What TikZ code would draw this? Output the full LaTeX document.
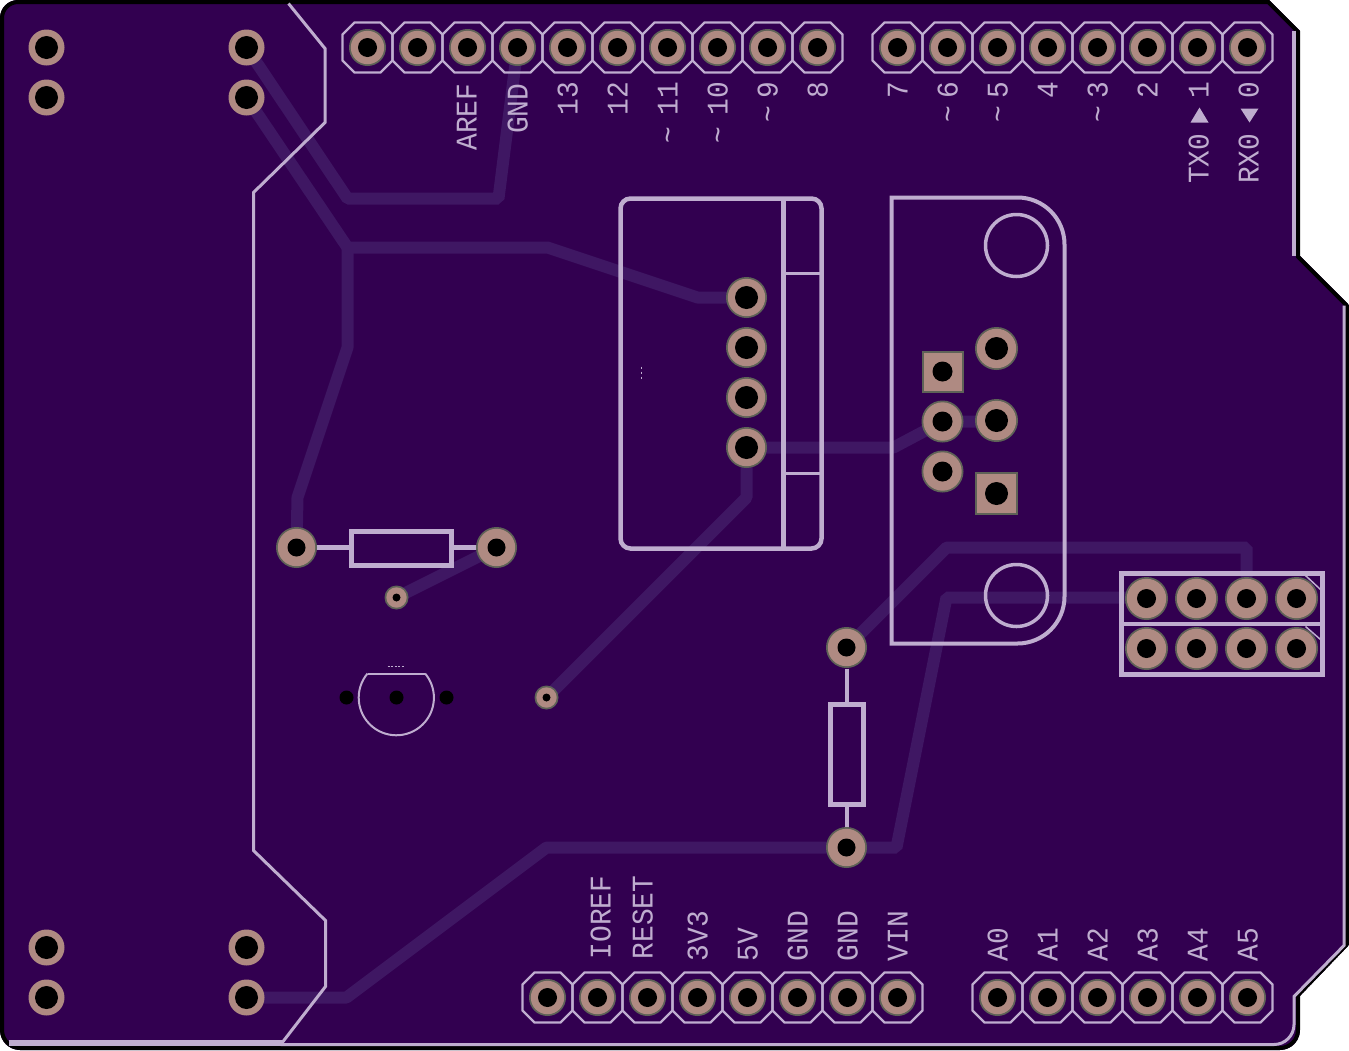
\documentclass[tikz,border=0pt]{standalone}
\usepackage{fontspec}
\newfontfamily\silkfont[FakeStretch=0.93]{Liberation Mono}
\definecolor{board}{HTML}{320050}
\definecolor{trace}{HTML}{3F1763}
\definecolor{silk}{HTML}{BFADCF}
\definecolor{copper}{HTML}{AF8A82}
\definecolor{rim}{HTML}{5E6257}
\newcommand{\boardpath}{(0,18) arc[start angle=180,end angle=90,radius=18pt] -- (1269,0) -- (1300,31) -- (1300,256) -- (1349,305) -- (1349,945) -- (1300,996) -- (1300,1030) arc[start angle=0,end angle=-90,radius=20pt] -- (20,1050) arc[start angle=270,end angle=180,radius=20pt] -- cycle}
% x, y, outer radius, hole radius
\newcommand{\rimpad}[4]{\fill[rim] (#1,#2) circle[radius=#3 pt]; \fill[copper] (#1,#2) circle[radius=#3 pt-1.8pt]; \fill[black] (#1,#2) circle[radius=#4 pt];}
\newcommand{\plainpad}[2]{\fill[copper] (#1,#2) circle[radius=18pt]; \fill[black] (#1,#2) circle[radius=11.5pt];}
\newcommand{\pinpad}[2]{\draw[octo] (#1-25,#2-13) -- (#1-13,#2-25) -- (#1+13,#2-25) -- (#1+25,#2-13) -- (#1+25,#2+13) -- (#1+13,#2+25) -- (#1-13,#2+25) -- (#1-25,#2+13) -- cycle; \rimpad{#1}{#2}{18.5}{9.5}}
\newcommand{\squarepad}[4]{\fill[rim] (#1-#3,#2-#3) rectangle (#1+#3,#2+#3); \fill[copper] (#1-#3+2,#2-#3+2) rectangle (#1+#3-2,#2+#3-2); \fill[black] (#1,#2) circle[radius=#4 pt];}
\newcommand{\wave}[1]{\textasciitilde\hspace*{#1pt}}
\tikzset{
  octo/.style={draw=silk,line width=2.2pt,line join=miter},
  tracks/.style={draw=trace,line width=12pt,line join=bevel,line cap=round},
  outline/.style={draw=silk,line width=3pt},
  silkline/.style={draw=silk,line width=4.5pt,line join=miter},
  toplabel/.style={rotate=90,anchor=east,inner sep=0pt,text height=20pt,text depth=0pt,text=silk,font=\silkfont\fontsize{30}{30}\selectfont},
  botlabel/.style={rotate=90,anchor=west,inner sep=0pt,text height=20pt,text depth=0pt,text=silk,font=\silkfont\fontsize{30}{30}\selectfont}
}
\begin{document}
\begin{tikzpicture}[x=1pt,y=-1pt]
\useasboundingbox (0,0) rectangle (1349,1050);
\begin{scope}
\clip \boardpath;
\fill[board] \boardpath;
\draw[black,line width=8pt] \boardpath;
\end{scope}
\begin{scope}[shift={(0.5,0.5)}]
% copper traces
\draw[tracks] (246,47) -- (347,198) -- (498,198) -- (517,47);
\draw[tracks] (246,97) -- (347,247) -- (547,247) -- (697,297) -- (746,297);
\draw[tracks] (347,247) -- (347,347) -- (297,497) -- (296,547);
\draw[tracks] (396,597) -- (496,547);
\draw[tracks] (746,447) -- (746,497) -- (546,697);
\draw[tracks] (746,447) -- (893,447) -- (942,421) -- (996,421);
\draw[tracks] (846,647) -- (946,547) -- (1246,547) -- (1246,597);
\draw[tracks] (1146,597) -- (946,597) -- (896,847) -- (546,847) -- (346,997) -- (246,997);
% board outline silk
\draw[outline,line width=3.5pt] (1293.5,30) -- (1293.5,255);
\draw[outline] (1343.5,305) -- (1343.5,945) -- (1293.5,996) -- (1293.5,1024) arc[start angle=0,end angle=-90,radius=20pt] -- (280,1044);
\draw[draw=silk,line width=6pt] (8,1042.5) -- (282,1042.5);
\draw[outline] (288,3) -- (324.5,48) -- (324.5,122) -- (253,192) -- (253,850) -- (325,920) -- (325,986) -- (281,1043);
% left mounting pads
\foreach \px/\py in {46/47,46/97,246/47,246/97,46/947,46/997,246/947,246/997}{\plainpad{\px}{\py}}
% headers
\foreach \px in {367,417,...,817}{\pinpad{\px}{47}}
\foreach \px in {897,947,...,1247}{\pinpad{\px}{47}}
\foreach \px in {547,597,...,897}{\pinpad{\px}{997}}
\foreach \px in {997,1047,...,1247}{\pinpad{\px}{997}}
% top labels
\node[toplabel] (lAREF) at (466,83) {AREF};
\node[toplabel] (lGNDt) at (517,83) {GND};
\node[toplabel] (l13) at (567,81) {13};
\node[toplabel] (l12) at (617,81) {12};
\node[toplabel] (l11) at (667,81) {\wave{12}11};
\node[toplabel] (l10) at (717,81) {\wave{12}10};
\node[toplabel] (l9) at (767,81) {\wave{7}9};
\node[toplabel] (l8) at (817,81) {8};
\node[toplabel] (l7) at (897,81) {7};
\node[toplabel] (l6) at (947,81) {\wave{7}6};
\node[toplabel] (l5) at (997,81) {\wave{7}5};
\node[toplabel] (l4) at (1047,81) {4};
\node[toplabel] (l3) at (1097,81) {\wave{7}3};
\node[toplabel] (l2) at (1147,81) {2};
\node[toplabel] (l1) at (1198,81) {1};
\node[toplabel] (l0) at (1248,81) {0};
\node[toplabel] (lTX) at (1198,133) {TX0};
\node[toplabel] (lRX) at (1248,133) {RX0};
\fill[silk] (1199,107) -- (1208,122) -- (1190,122) -- cycle;
\fill[silk] (1249,122) -- (1258,108) -- (1240,108) -- cycle;
% bottom labels
\node[botlabel] (lIOREF) at (600,959) {IOREF};
\node[botlabel] (lRESET) at (642,959) {RESET};
\node[botlabel] (l3V3) at (697,961) {3V3};
\node[botlabel] (l5V) at (747,961) {5V};
\node[botlabel] (lGNDa) at (797,961) {GND};
\node[botlabel] (lGNDb) at (847,961) {GND};
\node[botlabel] (lVIN) at (897,961) {VIN};
\node[botlabel] (lA0) at (997,961) {A0};
\node[botlabel] (lA1) at (1047,961) {A1};
\node[botlabel] (lA2) at (1097,961) {A2};
\node[botlabel] (lA3) at (1147,961) {A3};
\node[botlabel] (lA4) at (1197,961) {A4};
\node[botlabel] (lA5) at (1247,961) {A5};
% resistor 1
\draw[silkline] (351,531) rectangle (451,565);
\draw[silk,line width=5pt] (316,547) -- (350,547) (453,547) -- (475,547);
% resistor 2
\draw[silkline] (830,704) rectangle (863,804);
\draw[silk,line width=4pt] (846,668) -- (846,703) (846,805) -- (846,828);
% transistor
\draw[silk,line width=2pt] (367,673) -- (424,673);
\draw[silk,line width=2pt] (367,673) arc[start angle=140,end angle=400,radius=37.6pt];
\draw[silk,line width=1pt,dash pattern=on 2pt off 1.5pt] (387,665.5) -- (403,665.5);
\fill[black] (346,697) circle[radius=7pt] (396,697) circle[radius=7pt] (446,697) circle[radius=7pt];
% left connector
\draw[silk,line width=4.5pt,rounded corners=10pt] (620,198) rectangle (821,548);
\draw[silk,line width=4.5pt] (783,197) -- (783,550);
\draw[silk,line width=2.5pt] (785,273) -- (820,273) (785,473) -- (820,473);
\draw[silk,line width=1pt,dash pattern=on 2pt off 3pt] (640.5,366) -- (640.5,380);
\foreach \py in {297,347,397,447}{\rimpad{746}{\py}{20.5}{11.5}}
% sub-D connector
\draw[silk,line width=4pt] (891,197) -- (1017,197) arc[start angle=90,end angle=0,radius=47pt] -- (1064,596) arc[start angle=0,end angle=-90,radius=47pt] -- (891,643) -- cycle;
\draw[silk,line width=3.5pt] (1016,245) circle[radius=31pt] (1016,595) circle[radius=31pt];
\squarepad{942}{371}{21}{10}
\rimpad{942}{421}{21}{10}
\rimpad{942}{471}{21}{10}
\rimpad{996}{348}{21.5}{11.5}
\rimpad{996}{420}{21.5}{11.5}
\squarepad{996}{493}{21.5}{11.5}
% 2x4 header
\draw[silkline] (1121,573) rectangle (1322,674);
\draw[silk,line width=4.5pt] (1121,623.5) -- (1322,623.5);
\draw[silk,line width=1.5pt] (1305,575) -- (1320,589) (1305,626) -- (1320,639);
\foreach \px in {1146,1196,1246,1296}{\rimpad{\px}{598}{21.5}{9.5} \rimpad{\px}{648}{21.5}{9.5}}
% resistor and via pads
\rimpad{296}{547}{20.5}{9}
\rimpad{496}{547}{20.5}{9}
\rimpad{846}{647}{20.5}{9}
\rimpad{846}{847}{20.5}{9}
\rimpad{396}{597}{12}{4}
\rimpad{546}{697}{12}{4}
\end{scope}
\end{tikzpicture}
\end{document}
